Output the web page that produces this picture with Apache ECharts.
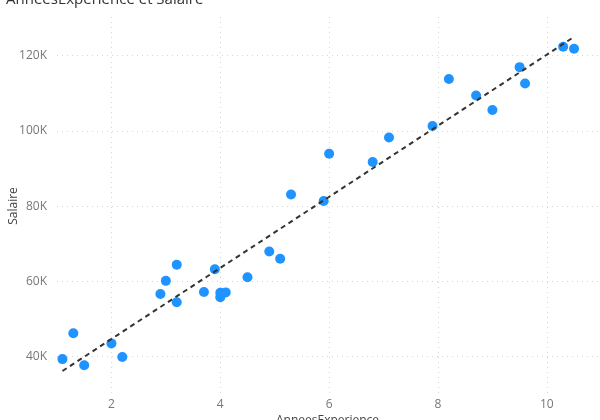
<!DOCTYPE html>
<html><head><meta charset="utf-8">
<script src="https://cdn.jsdelivr.net/npm/echarts@6/dist/echarts.min.js"></script>
<style>html,body{margin:0;padding:0;background:#fff}#c{width:600px;height:420px}</style>
</head><body><div id="c"></div>
<script>
const experience = [1.1,1.3,1.5,2.0,2.2,2.9,3.0,3.2,3.2,3.7,3.9,4.0,4.0,4.1,4.5,4.9,5.1,5.3,5.9,6.0,6.8,7.1,7.9,8.2,8.7,9.0,9.5,9.6,10.3,10.5];
const salary = [39343,46205,37731,43525,39891,56642,60150,54445,64445,57189,63218,55794,56957,57081,61111,67938,66029,83088,81363,93940,91738,98273,101302,113812,109431,105582,116969,112635,122391,121872];
const titleText = 'AnneesExperience et Salaire';
const xName = 'AnneesExperience';
const yName = 'Salaire';

// least-squares trend line from the data
const n = experience.length;
const mx = experience.reduce((a,b)=>a+b,0)/n;
const my = salary.reduce((a,b)=>a+b,0)/n;
let sxy=0, sxx=0;
for (let i=0;i<n;i++){ sxy+=(experience[i]-mx)*(salary[i]-my); sxx+=(experience[i]-mx)**2; }
const slope = sxy/sxx, intercept = my - slope*mx;
const xMin = Math.min(...experience), xMax = Math.max(...experience);
const trend = [[xMin, intercept+slope*xMin],[xMax, intercept+slope*xMax]];

const font = '"Open Sans", "Noto Sans", sans-serif';
const chart = echarts.init(document.getElementById('c'), null, {renderer:'canvas'});
chart.setOption({
  animation:false,
  title:{text:titleText,left:1,top:-13,textStyle:{fontFamily:font,fontSize:15,fontWeight:'normal',color:'#333'}},
  grid:{left:57,right:2,top:17,bottom:25,containLabel:false,outerBoundsMode:'none'},
  xAxis:{type:'value',min:1.0,max:10.94,
    name:xName,nameLocation:'middle',nameGap:20,nameMoveOverlap:false,
    nameTextStyle:{fontFamily:font,fontSize:12,color:'#444'},
    axisLine:{show:false},axisTick:{show:false},
    axisLabel:{fontFamily:font,fontSize:12,color:'#777',margin:4,showMinLabel:false,showMaxLabel:false,
      formatter:v=> (Math.abs(v-Math.round(v))<1e-9 && Math.round(v)%2===0) ? String(v) : ''},
    splitLine:{show:true,showMinLine:false,showMaxLine:false,lineStyle:{color:'#d6d6d6',type:[1,4],width:1}}},
  yAxis:{type:'value',min:29800,max:130300,
    name:yName,nameLocation:'middle',nameGap:37,nameMoveOverlap:false,
    nameTextStyle:{fontFamily:font,fontSize:12,color:'#444'},
    axisLine:{show:false},axisTick:{show:false},
    axisLabel:{fontFamily:font,fontSize:12,color:'#777',margin:10,showMinLabel:false,showMaxLabel:false,
      formatter:v=> (v%20000===0) ? (v/1000)+'K' : ''},
    splitLine:{show:true,showMinLine:false,showMaxLine:false,lineStyle:{color:'#d6d6d6',type:[1,4],width:1}}},
  series:[
    {type:'scatter',data:experience.map((x,i)=>[x,salary[i]]),symbolSize:10,
      itemStyle:{color:'#1f93ff',opacity:1},z:3},
    {type:'line',data:trend,showSymbol:false,symbol:'none',
      lineStyle:{color:'#333',width:2,type:[5,4]},z:4}
  ]
});
</script></body></html>
